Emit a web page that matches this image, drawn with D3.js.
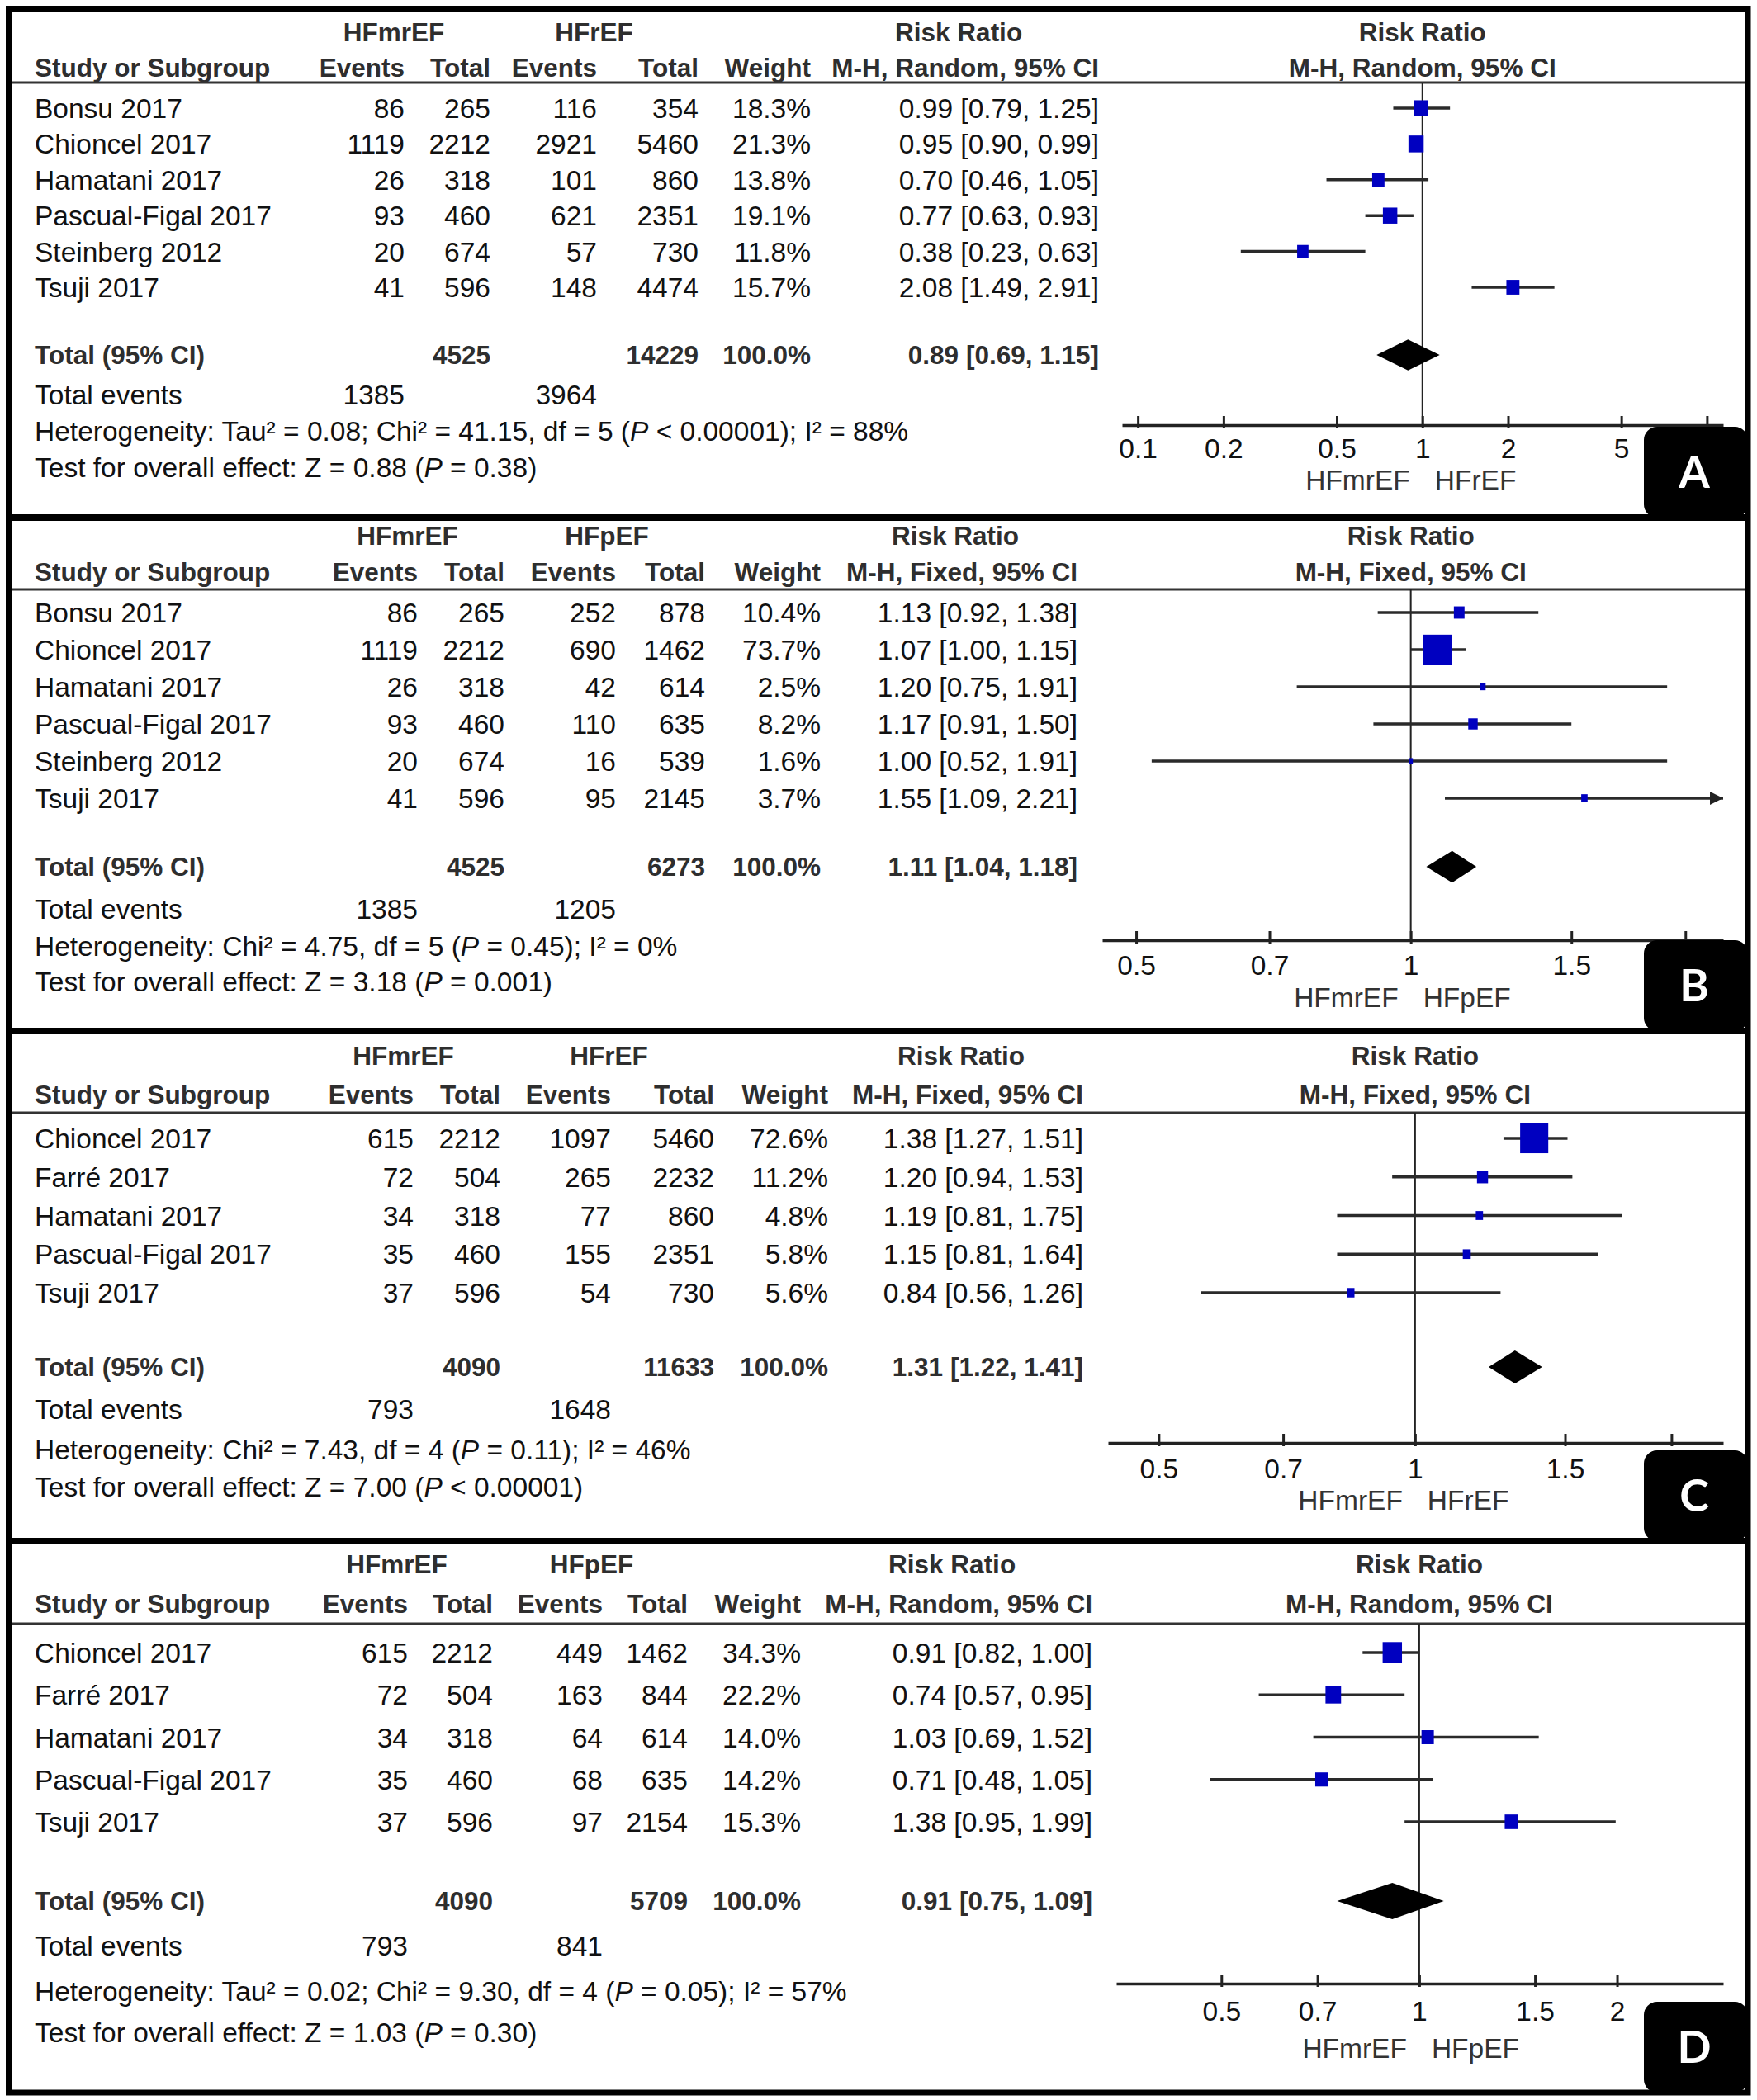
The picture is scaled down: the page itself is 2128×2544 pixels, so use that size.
<!DOCTYPE html>
<html>
<head>
<meta charset="utf-8">
<script src="https://cdn.jsdelivr.net/npm/d3@7"></script>
<style>
body { margin: 0; background: #fff; }
svg { display: block; font-family: "Liberation Sans", Arial, sans-serif; }
</style>
</head>
<body>
<svg width="2128" height="2544"></svg>
<script>
// A: HFmrEF vs HFrEF (random)
const studiesA = ["Bonsu 2017", "Chioncel 2017", "Hamatani 2017", "Pascual-Figal 2017", "Steinberg 2012", "Tsuji 2017"]
const mrEventsA = [86, 1119, 26, 93, 20, 41]
const mrTotalA = [265, 2212, 318, 460, 674, 596]
const cmpEventsA = [116, 2921, 101, 621, 57, 148]
const cmpTotalA = [354, 5460, 860, 2351, 730, 4474]
const weightA = [18.3, 21.3, 13.8, 19.1, 11.8, 15.7]
const rrA = [0.99, 0.95, 0.70, 0.77, 0.38, 2.08]
const lowerA = [0.79, 0.90, 0.46, 0.63, 0.23, 1.49]
const upperA = [1.25, 0.99, 1.05, 0.93, 0.63, 2.91]
const pooledA = [0.89, 0.69, 1.15]
const sumsA = [1385, 4525, 3964, 14229]

// B: HFmrEF vs HFpEF (fixed)
const studiesB = ["Bonsu 2017", "Chioncel 2017", "Hamatani 2017", "Pascual-Figal 2017", "Steinberg 2012", "Tsuji 2017"]
const mrEventsB = [86, 1119, 26, 93, 20, 41]
const mrTotalB = [265, 2212, 318, 460, 674, 596]
const cmpEventsB = [252, 690, 42, 110, 16, 95]
const cmpTotalB = [878, 1462, 614, 635, 539, 2145]
const weightB = [10.4, 73.7, 2.5, 8.2, 1.6, 3.7]
const rrB = [1.13, 1.07, 1.20, 1.17, 1.00, 1.55]
const lowerB = [0.92, 1.00, 0.75, 0.91, 0.52, 1.09]
const upperB = [1.38, 1.15, 1.91, 1.50, 1.91, 2.21]
const pooledB = [1.11, 1.04, 1.18]
const sumsB = [1385, 4525, 1205, 6273]

// C: HFmrEF vs HFrEF (fixed)
const studiesC = ["Chioncel 2017", "Farré 2017", "Hamatani 2017", "Pascual-Figal 2017", "Tsuji 2017"]
const mrEventsC = [615, 72, 34, 35, 37]
const mrTotalC = [2212, 504, 318, 460, 596]
const cmpEventsC = [1097, 265, 77, 155, 54]
const cmpTotalC = [5460, 2232, 860, 2351, 730]
const weightC = [72.6, 11.2, 4.8, 5.8, 5.6]
const rrC = [1.38, 1.20, 1.19, 1.15, 0.84]
const lowerC = [1.27, 0.94, 0.81, 0.81, 0.56]
const upperC = [1.51, 1.53, 1.75, 1.64, 1.26]
const pooledC = [1.31, 1.22, 1.41]
const sumsC = [793, 4090, 1648, 11633]

// D: HFmrEF vs HFpEF (random)
const studiesD = ["Chioncel 2017", "Farré 2017", "Hamatani 2017", "Pascual-Figal 2017", "Tsuji 2017"]
const mrEventsD = [615, 72, 34, 35, 37]
const mrTotalD = [2212, 504, 318, 460, 596]
const cmpEventsD = [449, 163, 64, 68, 97]
const cmpTotalD = [1462, 844, 614, 635, 2154]
const weightD = [34.3, 22.2, 14.0, 14.2, 15.3]
const rrD = [0.91, 0.74, 1.03, 0.71, 1.38]
const lowerD = [0.82, 0.57, 0.69, 0.48, 0.95]
const upperD = [1.00, 0.95, 1.52, 1.05, 1.99]
const pooledD = [0.91, 0.75, 1.09]
const sumsD = [793, 4090, 841, 5709]

const pooledWeight = [100.0, 100.0, 100.0, 100.0]
const groupNames = [["HFmrEF", "HFrEF"], ["HFmrEF", "HFpEF"], ["HFmrEF", "HFrEF"], ["HFmrEF", "HFpEF"]]
const methods = ["M-H, Random, 95% CI", "M-H, Fixed, 95% CI", "M-H, Fixed, 95% CI", "M-H, Random, 95% CI"]
const heterogeneity = [
	"Heterogeneity: Tau² = 0.08; Chi² = 41.15, df = 5 (|P| < 0.00001); I² = 88%",
	"Heterogeneity: Chi² = 4.75, df = 5 (|P| = 0.45); I² = 0%",
	"Heterogeneity: Chi² = 7.43, df = 4 (|P| = 0.11); I² = 46%",
	"Heterogeneity: Tau² = 0.02; Chi² = 9.30, df = 4 (|P| = 0.05); I² = 57%"
]
const overall = [
	"Test for overall effect: Z = 0.88 (|P| = 0.38)",
	"Test for overall effect: Z = 3.18 (|P| = 0.001)",
	"Test for overall effect: Z = 7.00 (|P| < 0.00001)",
	"Test for overall effect: Z = 1.03 (|P| = 0.30)"
]
const ticksA = [0.1, 0.2, 0.5, 1, 2, 5, 10]
const ticksBCD = [0.5, 0.7, 1, 1.5, 2]
const axisDomains = [[0.088, 11.4], [0.459, 2.2], [0.436, 2.3], [0.346, 2.9]]
const letters = ["A", "B", "C", "D"]

const panels = [
	{studies: studiesA, mrE: mrEventsA, mrT: mrTotalA, cE: cmpEventsA, cT: cmpTotalA, w: weightA, rr: rrA, lo: lowerA, hi: upperA, pooled: pooledA, sums: sumsA, ticks: ticksA},
	{studies: studiesB, mrE: mrEventsB, mrT: mrTotalB, cE: cmpEventsB, cT: cmpTotalB, w: weightB, rr: rrB, lo: lowerB, hi: upperB, pooled: pooledB, sums: sumsB, ticks: ticksBCD},
	{studies: studiesC, mrE: mrEventsC, mrT: mrTotalC, cE: cmpEventsC, cT: cmpTotalC, w: weightC, rr: rrC, lo: lowerC, hi: upperC, pooled: pooledC, sums: sumsC, ticks: ticksBCD},
	{studies: studiesD, mrE: mrEventsD, mrT: mrTotalD, cE: cmpEventsD, cT: cmpTotalD, w: weightD, rr: rrD, lo: lowerD, hi: upperD, pooled: pooledD, sums: sumsD, ticks: ticksBCD}
]

// page layout of each panel
const layouts = [
	{bottom: 627, h1: 39, h2: 82, line: 100, row0: 131, step: 43.4, total: 430, events: 478, het: 522, test: 566, axisY: 515, axisX: [1359, 2087], tickLab: 543, dirLab: 581, cols: [490, 594, 723, 846, 982, 1331]},
	{bottom: 1249, h1: 649, h2: 693, line: 714, row0: 742, step: 45, total: 1050, events: 1101, het: 1146, test: 1189, axisY: 1139, axisX: [1335, 2087], tickLab: 1169, dirLab: 1208, cols: [506, 611, 746, 854, 994, 1305]},
	{bottom: 1867, h1: 1279, h2: 1326, line: 1348, row0: 1379, step: 46.75, total: 1656, events: 1707, het: 1756, test: 1801, axisY: 1748, axisX: [1342, 2087], tickLab: 1779, dirLab: 1817, cols: [501, 606, 740, 865, 1003, 1312]},
	{bottom: 2535, h1: 1895, h2: 1943, line: 1967, row0: 2002, step: 51.25, total: 2303, events: 2357, het: 2412, test: 2462, axisY: 2403, axisX: [1352, 2087], tickLab: 2436, dirLab: 2481, cols: [494, 597, 730, 833, 970, 1323]}
]

const FS = 33.5, FSB = 31.5
const ink = "#111", headInk = "#2e2e2e"
const f2 = d3.format(".2f"), f1 = d3.format(".1f")
const boxSize = d3.scaleSqrt().domain([0, 100]).range([0, 40])
const letterBoxX = 1991

const svg = d3.select("svg")
svg.append("rect").attr("width", 2128).attr("height", 2544).attr("fill", "#fff")

function label(g, x, y, str, opt) {
	opt = opt || {}
	const fs = opt.bold ? FSB : FS
	const t = g.append("text")
		.attr("x", x)
		.attr("y", y + 0.36 * fs)
		.attr("font-size", fs)
		.attr("font-weight", opt.bold ? "bold" : "normal")
		.attr("fill", opt.color || (opt.bold ? headInk : ink))
		.attr("text-anchor", opt.anchor || "start")
	str.split("|").forEach((part, i) => {
		t.append("tspan").attr("font-style", i % 2 ? "italic" : "normal").text(part)
	})
	return t
}

function ciText(r, l, h) {
	return f2(r) + " [" + f2(l) + ", " + f2(h) + "]"
}

panels.forEach((p, k) => {
	const L = layouts[k]
	const g = svg.append("g")
	const c = L.cols
	const y = d3.scaleLinear().domain([0, 1]).range([L.row0, L.row0 + L.step])
	const x = d3.scaleLog().domain(axisDomains[k]).range(L.axisX)
	const x1 = x(1)

	// headings
	label(g, (c[0] + c[1]) / 2 - 65, L.h1, groupNames[k][0], {bold: true, anchor: "middle"})
	label(g, (c[2] + c[3]) / 2 - 65, L.h1, groupNames[k][1], {bold: true, anchor: "middle"})
	label(g, 42, L.h2, "Study or Subgroup", {bold: true})
	label(g, c[0], L.h2, "Events", {bold: true, anchor: "end"})
	label(g, c[1], L.h2, "Total", {bold: true, anchor: "end"})
	label(g, c[2], L.h2, "Events", {bold: true, anchor: "end"})
	label(g, c[3], L.h2, "Total", {bold: true, anchor: "end"})
	label(g, c[4], L.h2, "Weight", {bold: true, anchor: "end"})
	const mh = label(g, c[5], L.h2, methods[k], {bold: true, anchor: "end"})
	const mhW = mh.node().getComputedTextLength()
	label(g, c[5] - mhW / 2 - 8, L.h1, "Risk Ratio", {bold: true, anchor: "middle"})
	label(g, x1, L.h1, "Risk Ratio", {bold: true, anchor: "middle"})
	label(g, x1, L.h2, methods[k], {bold: true, anchor: "middle"})

	g.append("line")
		.attr("x1", 14).attr("x2", 2114)
		.attr("y1", L.line).attr("y2", L.line)
		.attr("stroke", "#333").attr("stroke-width", 3)

	// study rows
	p.studies.forEach((s, i) => {
		label(g, 42, y(i), s)
		label(g, c[0], y(i), String(p.mrE[i]), {anchor: "end"})
		label(g, c[1], y(i), String(p.mrT[i]), {anchor: "end"})
		label(g, c[2], y(i), String(p.cE[i]), {anchor: "end"})
		label(g, c[3], y(i), String(p.cT[i]), {anchor: "end"})
		label(g, c[4], y(i), f1(p.w[i]) + "%", {anchor: "end"})
		label(g, c[5], y(i), ciText(p.rr[i], p.lo[i], p.hi[i]), {anchor: "end"})
	})

	label(g, 42, L.total, "Total (95% CI)", {bold: true})
	label(g, c[1], L.total, String(p.sums[1]), {bold: true, anchor: "end"})
	label(g, c[3], L.total, String(p.sums[3]), {bold: true, anchor: "end"})
	label(g, c[4], L.total, f1(pooledWeight[k]) + "%", {bold: true, anchor: "end"})
	label(g, c[5], L.total, ciText(p.pooled[0], p.pooled[1], p.pooled[2]), {bold: true, anchor: "end"})

	label(g, 42, L.events, "Total events")
	label(g, c[0], L.events, String(p.sums[0]), {anchor: "end"})
	label(g, c[2], L.events, String(p.sums[2]), {anchor: "end"})
	label(g, 42, L.het, heterogeneity[k])
	label(g, 42, L.test, overall[k])

	// forest plot
	g.append("line")
		.attr("x1", x1).attr("x2", x1)
		.attr("y1", L.line).attr("y2", L.axisY)
		.attr("stroke", "#222").attr("stroke-width", 2)

	const xMax = axisDomains[k][1]
	const rows = g.selectAll("g.study")
		.data(p.studies.map((s, i) => i))
		.join("g")
		.attr("class", "study")

	rows.append("line")
		.attr("x1", i => x(Math.max(p.lo[i], axisDomains[k][0])))
		.attr("x2", i => x(Math.min(p.hi[i], xMax)))
		.attr("y1", i => y(i)).attr("y2", i => y(i))
		.attr("stroke", "#2a2a2a").attr("stroke-width", 3.5)

	rows.filter(i => p.hi[i] > xMax)
		.append("path")
		.attr("d", i => {
			const ex = x(xMax), ey = y(i)
			return "M" + ex + "," + ey + "L" + (ex - 16) + "," + (ey - 8) + "L" + (ex - 16) + "," + (ey + 8) + "Z"
		})
		.attr("fill", "#222")

	const side = i => Math.max(4, boxSize(p.w[i]))
	rows.append("rect")
		.attr("x", i => x(p.rr[i]) - side(i) / 2)
		.attr("y", i => y(i) - side(i) / 2 - 1)
		.attr("width", side)
		.attr("height", i => side(i) + 2)
		.attr("fill", "#0000c0")

	const dh = 0.43 * L.step
	g.append("path")
		.attr("d", "M" + x(p.pooled[1]) + "," + L.total +
			"L" + x(p.pooled[0]) + "," + (L.total - dh) +
			"L" + x(p.pooled[2]) + "," + L.total +
			"L" + x(p.pooled[0]) + "," + (L.total + dh) + "Z")
		.attr("fill", "#000")

	// labels that fall under the letter box are not shown
	const axis = d3.axisBottom(x)
		.tickValues(p.ticks)
		.tickFormat(d => x(d) > letterBoxX - 10 ? "" : String(d))
		.tickSizeInner(-11)
		.tickSizeOuter(0)
		.tickPadding(L.tickLab - L.axisY - 0.35 * FS)
	const ax = g.append("g")
		.attr("transform", "translate(0," + L.axisY + ")")
		.call(axis)
	ax.select(".domain").attr("stroke", "#222").attr("stroke-width", 3.5)
	ax.selectAll(".tick line").attr("y1", 4).attr("stroke", "#222").attr("stroke-width", 3)
	ax.selectAll(".tick text")
		.attr("font-size", FS)
		.attr("font-family", "Liberation Sans, Arial, sans-serif")
		.attr("fill", ink)

	label(g, x1 - 15, L.dirLab, groupNames[k][0], {anchor: "end", color: "#333"})
	label(g, x1 + 15, L.dirLab, groupNames[k][1], {color: "#333"})

	// panel letter
	g.append("rect")
		.attr("x", letterBoxX).attr("y", L.bottom - 110)
		.attr("width", 126).attr("height", 110)
		.attr("rx", 16)
		.attr("fill", "#000")
	g.append("text")
		.attr("x", 2052).attr("y", L.bottom - 55 + 19)
		.attr("text-anchor", "middle")
		.attr("font-family", "Lato, 'Open Sans', sans-serif")
		.attr("font-weight", "bold")
		.attr("font-size", 54)
		.attr("fill", "#fff")
		.text(letters[k])
})

// frame and dividers
svg.append("rect")
	.attr("x", 10.5).attr("y", 10.5)
	.attr("width", 2106.5).attr("height", 2524.5)
	.attr("fill", "none")
	.attr("stroke", "#000").attr("stroke-width", 7)

svg.selectAll("line.divider")
	.data(layouts.slice(0, 3))
	.join("line")
	.attr("class", "divider")
	.attr("x1", 7).attr("x2", 2120)
	.attr("y1", d => d.bottom).attr("y2", d => d.bottom)
	.attr("stroke", "#000").attr("stroke-width", 8)
</script>
</body>
</html>
